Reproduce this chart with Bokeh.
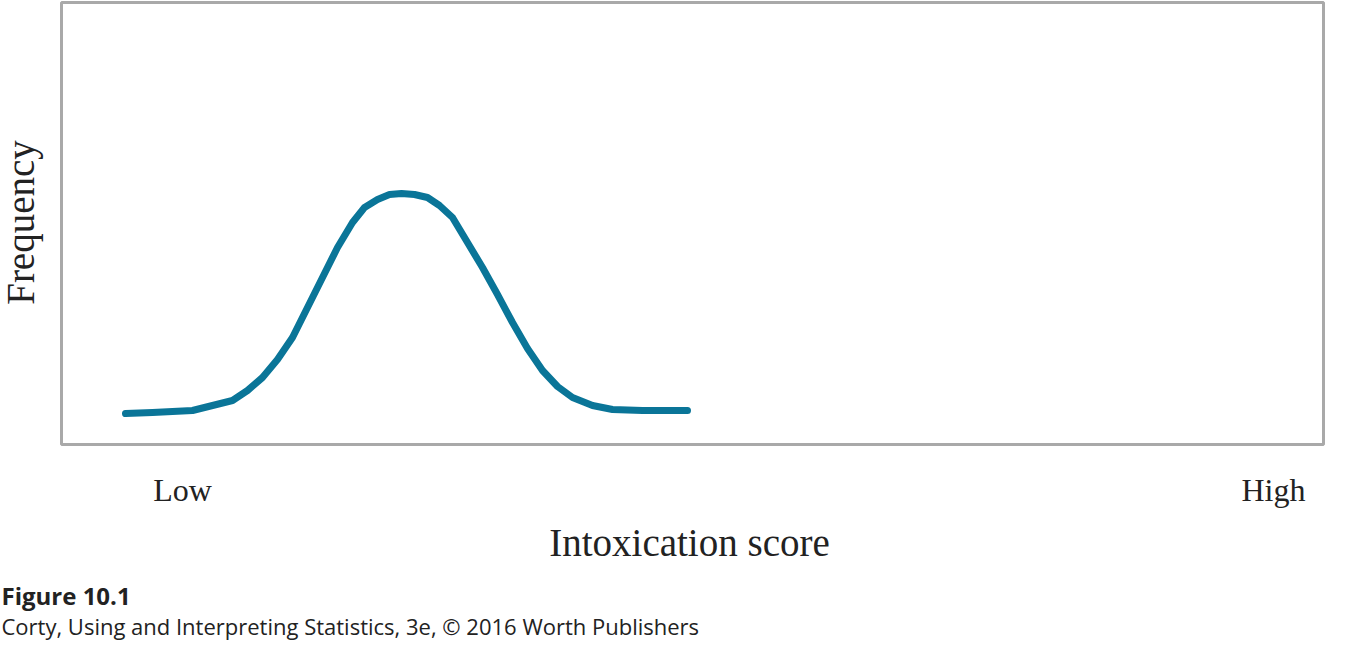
import math
from bokeh.plotting import figure
from bokeh.models import Range1d, Label
from bokeh.embed import file_html
from bokeh.resources import INLINE

# curve (x position, frequency height)
curve_x = [133, 160, 200, 240, 255, 270, 285, 300, 315, 330, 345, 360, 372, 385, 397, 409,
           422, 435, 447, 460, 475, 490, 505, 520, 535, 550, 565, 580, 600, 620, 650, 695]
curve_y = [31, 32, 34, 44, 54, 67, 85, 107, 137, 167, 197, 222, 237, 245, 250, 251,
           250, 247, 239, 227, 202, 177, 150, 122, 96, 74, 58, 47, 39, 35, 34, 34]

x_ticks = ["Low", "High"]
x_title = "Intoxication score"
y_title = "Frequency"

p = figure(width=1334, height=640, output_backend="svg", toolbar_location=None,
           x_range=Range1d(8, 1342), y_range=Range1d(-196, 444),
           min_border=0)
p.axis.visible = False
p.grid.visible = False
p.outline_line_color = None
p.background_fill_color = "white"
p.border_fill_color = "white"

# plot box
p.quad(left=[69], right=[1331], bottom=[0], top=[442], fill_color=None,
       line_color="#a9a9a9", line_width=3)

p.line(curve_x, curve_y, line_color="#0a7598", line_width=7, line_cap="round",
       line_join="round")

narrow = "Liberation Sans Narrow"
p.add_layout(Label(x=190, y=-45, text=x_ticks[0], text_font=narrow, text_font_size="32px",
                   text_align="center", text_baseline="middle", text_color="#222222"))
p.add_layout(Label(x=1281, y=-45, text=x_ticks[1], text_font=narrow, text_font_size="32px",
                   text_align="center", text_baseline="middle", text_color="#222222"))
p.add_layout(Label(x=697, y=-98, text=x_title, text_font=narrow, text_font_size="39px",
                   text_align="center", text_baseline="middle", text_color="#222222"))
p.add_layout(Label(x=28, y=222, text=y_title, text_font=narrow, text_font_size="39px",
                   text_align="center", text_baseline="middle", angle=math.pi / 2,
                   text_color="#222222"))
p.add_layout(Label(x=9, y=-151, text="Figure 10.1", text_font="Open Sans", text_font_style="bold",
                   text_font_size="24px", text_baseline="middle", text_color="#222222"))
p.add_layout(Label(x=9, y=-181, text="Corty, Using and Interpreting Statistics, 3e, © 2016 Worth Publishers",
                   text_font="Open Sans", text_font_size="22px", text_baseline="middle",
                   text_color="#222222"))

open("out.html", "w").write(file_html(p, INLINE))
